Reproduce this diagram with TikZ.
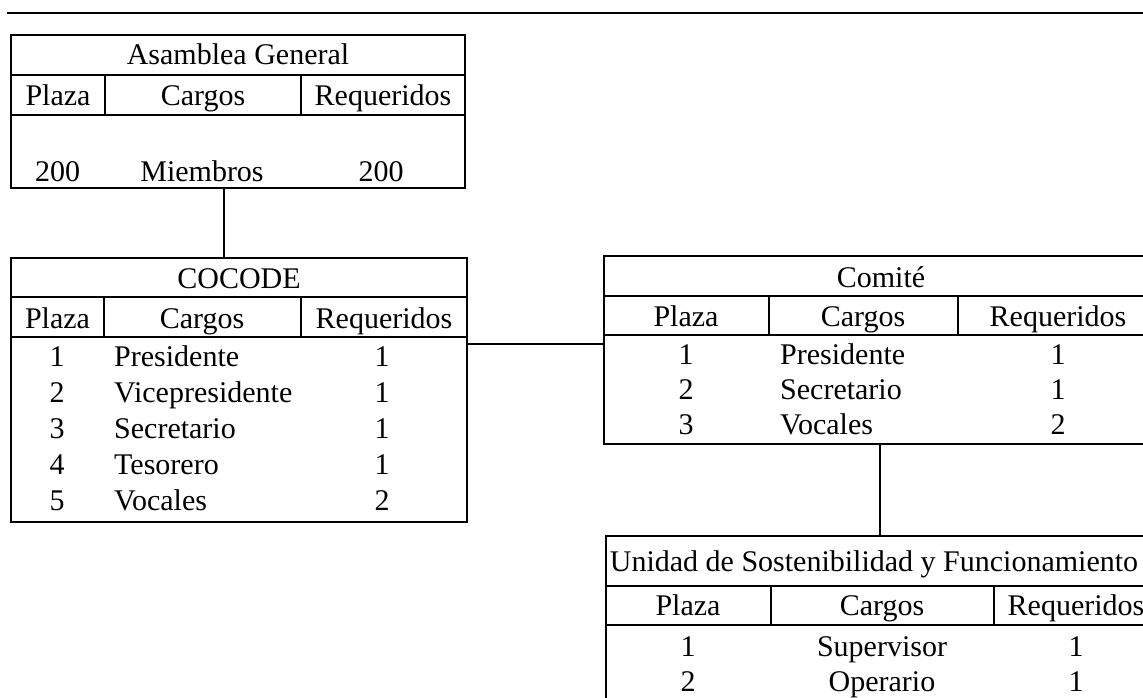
\documentclass[tikz,border=0pt]{standalone}
\usepackage{fontspec}
\setmainfont{Liberation Serif}
\begin{document}
\begin{tikzpicture}[x=1pt,y=-1pt,
  box/.style={draw, line width=2pt, rectangle, inner sep=0pt},
  rule/.style={line width=1.8pt},
  conn/.style={line width=2pt},
  txt/.style={anchor=base, inner sep=0pt, font=\fontsize{30}{36}\selectfont},
  lt/.style={txt, anchor=base west}]
\useasboundingbox (0,0) rectangle (1143,698);
\clip (0,0) rectangle (1143,698);

% top rule
\coordinate (tl) at (7,13);
\coordinate (tr) at (1143,13);
\draw[line width=1.6pt] (tl) -- (tr);

% ---------- Asamblea General ----------
\node[box, minimum width=454pt, minimum height=153pt] (asam) at (238,111.5) {};
\draw[rule] (11,75) -- (465,75);
\draw[rule] (11,115) -- (465,115);
\draw[rule] (105,75) -- (105,115);
\draw[rule] (301,75) -- (301,115);
\node[txt] (aT) at (238,65) {Asamblea General};
\node[txt] (aH1) at (58,106) {Plaza};
\node[txt] (aH2) at (203,106) {Cargos};
\node[txt] (aH3) at (383,106) {Requeridos};
\node[txt] (aD1) at (57.5,181) {200};
\node[txt] (aD2) at (202,181) {Miembros};
\node[txt] (aD3) at (381,181) {200};

% ---------- COCODE ----------
\node[box, minimum width=456pt, minimum height=264pt] (cocode) at (239,390) {};
\draw[rule] (11,297) -- (467,297);
\draw[rule] (11,337) -- (467,337);
\draw[rule] (104,297) -- (104,337);
\draw[rule] (301,297) -- (301,337);
\node[txt] (cT) at (239,288) {COCODE};
\node[txt] (cH1) at (57.5,328) {Plaza};
\node[txt] (cH2) at (202,328) {Cargos};
\node[txt] (cH3) at (384,328) {Requeridos};
\node[txt] (cN1) at (57,366) {1};
\node[txt] (cN2) at (57,402) {2};
\node[txt] (cN3) at (57,438) {3};
\node[txt] (cN4) at (57,474) {4};
\node[txt] (cN5) at (57,510) {5};
\node[lt] (cC1) at (114,366) {Presidente};
\node[lt] (cC2) at (114,402) {Vicepresidente};
\node[lt] (cC3) at (114,438) {Secretario};
\node[lt] (cC4) at (114,474) {Tesorero};
\node[lt] (cC5) at (114,510) {Vocales};
\node[txt] (cR1) at (382,366) {1};
\node[txt] (cR2) at (382,402) {1};
\node[txt] (cR3) at (382,438) {1};
\node[txt] (cR4) at (382,474) {1};
\node[txt] (cR5) at (382,510) {2};

% ---------- Comite ----------
\node[box, minimum width=554pt, minimum height=188pt] (comite) at (881,350) {};
\draw[rule] (604,296) -- (1158,296);
\draw[rule] (604,335) -- (1158,335);
\draw[rule] (769,296) -- (769,335);
\draw[rule] (958,296) -- (958,335);
\node[txt] (mT) at (881,287) {Comité};
\node[txt] (mH1) at (686,326) {Plaza};
\node[txt] (mH2) at (863,326) {Cargos};
\node[txt] (mH3) at (1058,326) {Requeridos};
\node[txt] (mN1) at (686,364) {1};
\node[txt] (mN2) at (686,399) {2};
\node[txt] (mN3) at (686,434) {3};
\node[lt] (mC1) at (780,364) {Presidente};
\node[lt] (mC2) at (780,399) {Secretario};
\node[lt] (mC3) at (780,434) {Vocales};
\node[txt] (mR1) at (1058,364) {1};
\node[txt] (mR2) at (1058,399) {1};
\node[txt] (mR3) at (1058,434) {2};

% ---------- Unidad ----------
\node[box, minimum width=552pt, minimum height=163pt] (unidad) at (882,617.5) {};
\draw[rule] (606,586) -- (1158,586);
\draw[rule] (606,625) -- (1158,625);
\draw[rule] (771,586) -- (771,625);
\draw[rule] (994,586) -- (994,625);
\node[txt] (uT) at (874,571) {Unidad de Sostenibilidad y Funcionamiento};
\node[txt] (uH1) at (688,615) {Plaza};
\node[txt] (uH2) at (882,615) {Cargos};
\node[txt] (uH3) at (1076,615) {Requeridos};
\node[txt] (uN1) at (688,656) {1};
\node[txt] (uN2) at (688,691) {2};
\node[txt] (uC1) at (882,656) {Supervisor};
\node[txt] (uC2) at (882,691) {Operario};
\node[txt] (uR1) at (1076,656) {1};
\node[txt] (uR2) at (1076,691) {1};

% ---------- connectors ----------
\coordinate (vA) at (224,0);
\coordinate (hC) at (0,344);
\coordinate (vC) at (880,0);
\draw[conn] (asam.south -| vA) -- (cocode.north -| vA);
\draw[conn] (cocode.east |- hC) -- (comite.west |- hC);
\draw[conn] (comite.south -| vC) -- (unidad.north -| vC);
\end{tikzpicture}
\end{document}
